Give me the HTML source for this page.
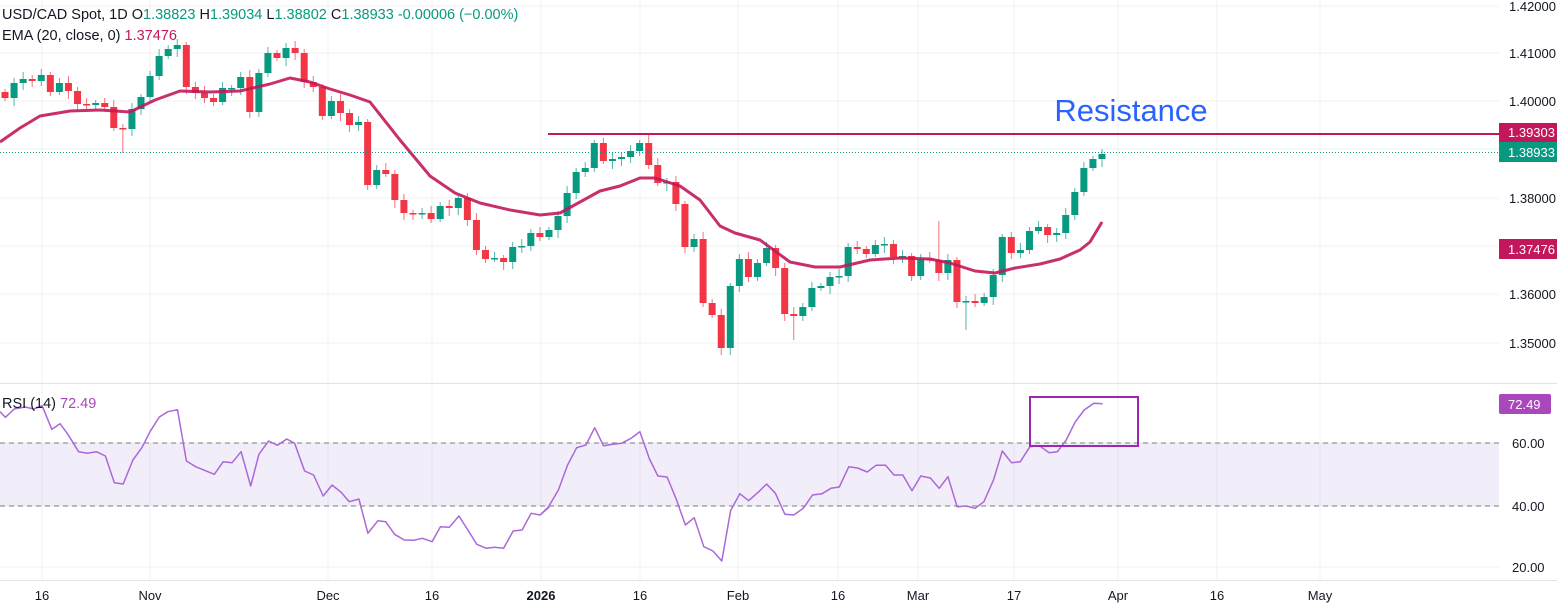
<!DOCTYPE html>
<html><head><meta charset="utf-8">
<style>
html,body{margin:0;padding:0;background:#fff;}
body{width:1557px;height:606px;overflow:hidden;font-family:"Liberation Sans",sans-serif;}
svg{display:block}
</style></head>
<body>
<svg id="c" width="1557" height="606" xmlns="http://www.w3.org/2000/svg" font-family="Liberation Sans, sans-serif"></svg>
<script>
const s=document.getElementById('c');
let h='';
const gy=[6,53,101,149,198,246,294,343];
gy.forEach(y=>h+=`<line x1="0" x2="1499" y1="${y}" y2="${y}" stroke="#f0f0f3" stroke-width="1"/>`);
const tx=[[42,'16'],[150,'Nov'],[328,'Dec'],[432,'16'],[541,'2026'],[640,'16'],[738,'Feb'],[838,'16'],[918,'Mar'],[1014,'17'],[1118,'Apr'],[1217,'16'],[1320,'May']];
tx.forEach(t=>h+=`<line x1="${t[0]}" x2="${t[0]}" y1="0" y2="580" stroke="#f0f0f3"/>`);
[443,506,567].forEach(y=>h+=`<line x1="0" x2="1499" y1="${y}" y2="${y}" stroke="#f0f0f3"/>`);
h+=`<line x1="0" x2="1557" y1="383.5" y2="383.5" stroke="#e0e3eb"/>`;
h+=`<line x1="0" x2="1557" y1="580.5" y2="580.5" stroke="#e0e3eb"/>`;
h+=`<rect x="0" y="443" width="1499" height="63" fill="#7e57c2" fill-opacity="0.1"/>`;
h+=`<line x1="0" x2="1499" y1="443" y2="443" stroke="#787b86" stroke-dasharray="5,4"/>`;
h+=`<line x1="0" x2="1499" y1="506" y2="506" stroke="#787b86" stroke-dasharray="5,4"/>`;
const C=[98,83,79,81,75,92,83,91,104,105,103,107,128,129,109,97,76,56,49,45,87,93,98,102,88,88,77,112,73,53,58,48,53,82,87,116,101,113,125,122,185,170,174,200,213,214,213,219,206,208,198,220,250,259,258,262,247,246,233,237,230,216,193,172,168,143,161,159,157,151,143,165,183,182,204,247,239,303,315,348,286,259,277,263,248,268,314,316,307,288,286,277,276,247,249,254,245,244,257,256,276,259,260,273,260,302,301,303,297,275,237,253,250,231,227,235,233,215,192,168,159,154];
const n=C.length, step=(1102-5)/(n-1);
const special={13:[null,153],79:[null,355],71:[135,null],65:[140,null],103:[221,null],106:[null,330],87:[null,340]};
let prev=92;
for(let i=0;i<n;i++){
 const x=5+i*step, o=prev, c=C[i];
 const col=c<=o?'#089981':'#f23645';
 let top=Math.min(o,c), bot=Math.max(o,c);
 let hi=top-3-((i*7)%5), lo=bot+3+((i*11)%6);
 if(special[i]){ if(special[i][0]!=null)hi=special[i][0]; if(special[i][1]!=null)lo=special[i][1]; }
 h+=`<line x1="${x}" x2="${x}" y1="${hi}" y2="${lo}" stroke="${col}" stroke-opacity="0.7" stroke-width="1"/>`;
 h+=`<rect x="${x-3.5}" y="${top}" width="7" height="${Math.max(1.5,bot-top)}" fill="${col}"/>`;
 prev=c;
}
const E=[[0,142],[20,128],[40,116],[70,111],[100,110],[130,112],[155,100],[180,91],[210,92],[240,91],[270,84],[290,78],[310,82],[330,89],[350,95],[370,102],[400,140],[430,176],[455,193],[480,203],[510,210],[540,215],[560,213],[580,202],[600,191],[620,186],[640,178],[655,178],[680,186],[700,200],[720,226],[735,233],[760,240],[790,262],[815,267],[840,267],[870,260],[900,258],[930,259],[950,263],[975,271],[995,273],[1015,268],[1040,264],[1060,259],[1080,250],[1090,242],[1102,222]];
h+=`<polyline points="${E.map(p=>p.join(',')).join(' ')}" fill="none" stroke="#c2185b" stroke-width="3" stroke-linejoin="round" opacity="0.9"/>`;
h+=`<line x1="548" x2="1499" y1="134" y2="134" stroke="#c2185b" stroke-width="2"/>`;
h+=`<line x1="0" x2="1499" y1="152.5" y2="152.5" stroke="#089981" stroke-dasharray="1,2"/>`;
h+=`<text x="1131" y="121" font-size="31" fill="#2962ff" text-anchor="middle">Resistance</text>`;
const R4=[[0,80],[15,97],[40,72],[70,66],[95,72],[118,62],[145,133],[168,116],[190,148],[220,200],[245,205],[270,200],[295,213],[320,293],[345,297],[372,225],[398,187],[420,140],[446,96],[470,80],[497,74],[522,228],[548,245],[575,257],[600,268],[625,230],[650,233],[675,200],[702,303],[725,208],[752,168],[777,181],[803,162],[825,175],[853,258],[878,270],[905,333],[930,300],[955,322],[978,350],[1005,342],[1030,445],[1058,407],[1080,410],[1105,448],[1132,465],[1158,466],[1183,460],[1210,470],[1233,425],[1258,427],[1285,393],[1310,435],[1335,478],[1362,490],[1385,487],[1410,490],[1437,438],[1462,435],[1487,385],[1512,390],[1537,367]].map(p=>[p[0]/2.8,385+p[1]/3]);
const R5=[[0,390],[22,366],[48,315],[72,240],[96,188],[120,180],[143,128],[166,182],[190,178],[213,175],[238,160],[261,140],[286,222],[308,273],[332,276],[355,340],[380,420],[403,398],[428,485],[452,498],[475,528],[498,377],[522,326],[545,347],[570,322],[592,297],[615,325],[640,388],[663,390],[688,370],[712,330],[737,326],[760,310],[782,306],[807,245],[830,249],[855,261],[878,241],[903,241],[925,270],[948,270],[972,317],[995,273],[1020,279],[1043,310],[1066,275],[1090,365],[1113,363],[1137,370],[1160,350],[1185,285],[1208,198],[1232,233],[1255,230],[1280,185],[1305,182],[1330,203],[1352,200],[1375,165],[1398,112],[1422,75],[1447,55],[1470,56]].map(p=>[540+p[0]/2.613,385+p[1]/3]);
const R=R4.concat(R5);
h+=`<polyline points="${R.map(p=>p[0].toFixed(1)+','+p[1].toFixed(1)).join(' ')}" fill="none" stroke="#ab68d8" stroke-width="1.5" stroke-linejoin="round"/>`;
h+=`<rect x="1030" y="397" width="108" height="49" fill="none" stroke="#9c27b0" stroke-width="2"/>`;
const pl=[[6,'1.42000'],[53,'1.41000'],[101,'1.40000'],[198,'1.38000'],[246,'1.37000'],[294,'1.36000'],[343,'1.35000']];
pl.forEach(p=>h+=`<text x="1509" y="${p[0]+5}" font-size="13" fill="#131722">${p[1]}</text>`);
h+=`<rect x="1499" y="123" width="58" height="19" fill="#c2185b"/><text x="1508" y="137" font-size="13" fill="#fff">1.39303</text>`;
h+=`<rect x="1499" y="142" width="58" height="20" fill="#089981"/><text x="1508" y="157" font-size="13" fill="#fff">1.38933</text>`;
h+=`<rect x="1499" y="239" width="58" height="20" fill="#c2185b"/><text x="1508" y="254" font-size="13" fill="#fff">1.37476</text>`;
h+=`<rect x="1499" y="394" width="52" height="20" fill="#ab47bc" rx="2"/><text x="1508" y="409" font-size="13" fill="#fff">72.49</text>`;
[[443,'60.00'],[506,'40.00'],[567,'20.00']].forEach(p=>h+=`<text x="1512" y="${p[0]+5}" font-size="13" fill="#131722">${p[1]}</text>`);
tx.forEach(t=>h+=`<text x="${t[0]}" y="600" font-size="13" fill="#131722" text-anchor="middle" ${t[1]=='2026'?'font-weight="bold"':''}>${t[1]}</text>`);
h+=`<text x="2" y="19" font-size="14.5" fill="#131722">USD/CAD Spot, 1D  O<tspan fill="#089981">1.38823</tspan>  H<tspan fill="#089981">1.39034</tspan>  L<tspan fill="#089981">1.38802</tspan>  C<tspan fill="#089981">1.38933</tspan>  <tspan fill="#089981">-0.00006 (−0.00%)</tspan></text>`;
h+=`<text x="2" y="40" font-size="14.5" fill="#131722">EMA (20, close, 0)  <tspan fill="#c2185b">1.37476</tspan></text>`;
h+=`<text x="2" y="408" font-size="14.5" fill="#131722">RSI (14)  <tspan fill="#ab47bc">72.49</tspan></text>`;
s.innerHTML=h;
</script>
</body></html>
